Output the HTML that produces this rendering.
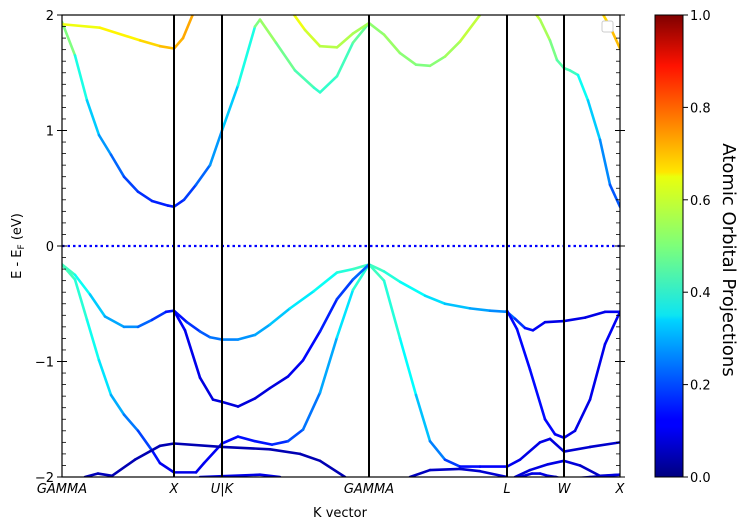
<!DOCTYPE html>
<html><head><meta charset="utf-8"><style>
body{margin:0;background:#fff;}
svg{display:block;font-family:"DejaVu Sans","Liberation Sans",sans-serif;}
</style></head><body>
<svg id="c" width="747" height="529" viewBox="0 0 747 529">
<defs>
<linearGradient id="jet" x1="0" y1="1" x2="0" y2="0">
<stop offset="0" stop-color="#00007f"/><stop offset="0.11" stop-color="#0000ff"/><stop offset="0.125" stop-color="#0000ff"/>
<stop offset="0.34" stop-color="#00d4ff"/><stop offset="0.35" stop-color="#0de5f2"/><stop offset="0.5" stop-color="#7dff7a"/>
<stop offset="0.65" stop-color="#eaff0d"/><stop offset="0.66" stop-color="#ffe600"/><stop offset="0.89" stop-color="#ff1200"/><stop offset="1" stop-color="#7f0000"/>
</linearGradient>
<clipPath id="plotclip"><rect x="62" y="15" width="558" height="462"/></clipPath>
</defs>
<g id="bands" clip-path="url(#plotclip)"></g>
<g id="axes"></g>
</svg>
<script>
// k positions in path units (0..558), energies in eV, projections 0..1
const kTickLabels = ["GAMMA","X","U|K","GAMMA","L","W","X"];
const kTickPos = [0,112,160,307,445,502,558];
const yTicks = [2,1,0,-1,-2];
const cbTicks = [0,0.2,0.4,0.6,0.8,1.0];
const bandK = [
 [0,13,25,37,49,62,76,90,106,112,122,134,148,160,176,193,198,214,233,252,258,275,291,307,322,338,354,368,383,398,418],
 [470,478,488,495,502,508,516,526,538,548,558],
 [0,38,78,98,112,121,133],
 [228,243,258,275,291,307],
 [538,548,558],
 [0,13,28,43,62,76,90,104,112,125,138,148,160,176,193,208,228,252,275,291,307,322,338,363,383,408,428,445,453,463,471,483,502,523,543,558],
 [0,13,25,37,49,62,76,90,98,112,134,142,160,176,193,210,226,241,258,275,291,307,322,338,354,368,383,398,418,445,458,478,488,502,528,558],
 [112,123,138,151,160,176,193,208,226,241,258,275,291,307],
 [445,455,468,483,493,502,513,528,543,558],
 [23,36,50,73,98,112,160,208,238,258,283],
 [138,198,218],
 [348,368,398,418,445],
 [453,468,486,502,518,538,558],
 [458,470,478,486,494,502,528,558]
];
const bandE = [
 [1.94,1.65,1.26,0.96,0.79,0.6,0.47,0.39,0.35,0.34,0.40,0.53,0.7,1.0,1.39,1.9,1.96,1.76,1.52,1.37,1.33,1.47,1.76,1.93,1.83,1.67,1.57,1.56,1.64,1.77,2.0],
 [2.05,1.96,1.78,1.61,1.54,1.52,1.48,1.26,0.92,0.53,0.34],
 [1.92,1.89,1.78,1.73,1.71,1.8,2.05],
 [2.05,1.87,1.73,1.72,1.84,1.93],
 [2.05,1.9,1.71],
 [-0.16,-0.25,-0.42,-0.61,-0.7,-0.7,-0.64,-0.57,-0.56,-0.66,-0.74,-0.79,-0.81,-0.81,-0.77,-0.68,-0.54,-0.39,-0.23,-0.2,-0.16,-0.22,-0.31,-0.43,-0.5,-0.54,-0.56,-0.57,-0.63,-0.71,-0.73,-0.66,-0.65,-0.62,-0.57,-0.57],
 [-0.16,-0.29,-0.64,-0.99,-1.29,-1.46,-1.6,-1.77,-1.88,-1.96,-1.96,-1.88,-1.71,-1.65,-1.69,-1.72,-1.69,-1.59,-1.27,-0.79,-0.38,-0.16,-0.3,-0.8,-1.29,-1.69,-1.85,-1.91,-1.91,-1.91,-1.85,-1.7,-1.67,-1.78,-1.74,-1.7],
 [-0.56,-0.73,-1.14,-1.33,-1.35,-1.39,-1.32,-1.23,-1.13,-0.99,-0.74,-0.46,-0.29,-0.16],
 [-0.56,-0.72,-1.07,-1.5,-1.63,-1.66,-1.6,-1.33,-0.85,-0.57],
 [-2.0,-1.97,-1.99,-1.85,-1.73,-1.71,-1.74,-1.76,-1.8,-1.86,-2.0],
 [-2.0,-1.98,-2.0],
 [-2.0,-1.94,-1.93,-1.95,-2.0],
 [-2.0,-1.94,-1.89,-1.86,-1.9,-1.99,-1.98],
 [-2.0,-1.97,-1.97,-1.99,-2.0,-2.02,-2.0,-1.98]
];
const bandP = [
 [0.55,0.45,0.35,0.3,0.25,0.2,0.18,0.16,0.15,0.15,0.17,0.2,0.25,0.3,0.35,0.45,0.55,0.5,0.47,0.43,0.42,0.43,0.45,0.5,0.53,0.52,0.5,0.5,0.52,0.55,0.58],
 [0.58,0.56,0.52,0.47,0.45,0.45,0.42,0.35,0.3,0.22,0.2],
 [0.6,0.62,0.65,0.68,0.7,0.7,0.72],
 [0.62,0.6,0.56,0.55,0.55,0.53],
 [0.65,0.68,0.7],
 [0.45,0.42,0.35,0.3,0.28,0.25,0.2,0.15,0.13,0.15,0.2,0.23,0.25,0.26,0.28,0.3,0.34,0.37,0.4,0.42,0.45,0.42,0.4,0.36,0.33,0.3,0.27,0.25,0.2,0.15,0.13,0.1,0.1,0.1,0.1,0.12],
 [0.45,0.43,0.4,0.38,0.32,0.27,0.22,0.16,0.12,0.1,0.1,0.11,0.12,0.14,0.14,0.15,0.18,0.22,0.26,0.32,0.38,0.45,0.42,0.4,0.35,0.28,0.22,0.15,0.12,0.12,0.1,0.1,0.1,0.08,0.08,0.07],
 [0.13,0.11,0.1,0.09,0.09,0.09,0.09,0.09,0.1,0.12,0.14,0.17,0.2,0.25],
 [0.13,0.13,0.13,0.14,0.12,0.11,0.1,0.1,0.11,0.12],
 [0.05,0.06,0.05,0.05,0.05,0.05,0.05,0.05,0.05,0.05,0.05],
 [0.1,0.1,0.1],
 [0.05,0.07,0.07,0.08,0.08],
 [0.08,0.09,0.1,0.1,0.08,0.06,0.06],
 [0.08,0.1,0.1,0.09,0.08,0.08,0.09,0.1]
];

const X0=62,W=558,Y0=15,H=462,EMAX=2,EMIN=-2;
const xs=k=>X0+k/558*W;
const ys=e=>Y0+(EMAX-e)/(EMAX-EMIN)*H;
const NS="http://www.w3.org/2000/svg";
function jet(v){
  v=Math.max(0,Math.min(1,v));
  const f=(x)=>Math.max(0,Math.min(1,x));
  const r=f(Math.min(4*v-1.5,-4*v+4.5)),g=f(Math.min(4*v-0.5,-4*v+3.5)),b=f(Math.min(4*v+0.5,-4*v+2.5));
  return `rgb(${Math.round(r*255)},${Math.round(g*255)},${Math.round(b*255)})`;
}
function mk(tag,attrs,parent){const e=document.createElementNS(NS,tag);for(const a in attrs)e.setAttribute(a,attrs[a]);parent.appendChild(e);return e;}
const bands=document.getElementById('bands'),axes=document.getElementById('axes');
const zl=mk('line',{x1:X0,x2:X0+W,y1:ys(0),y2:ys(0),stroke:'#0000ff','stroke-width':2.2,'stroke-dasharray':'2.5,3'},bands);


for(let b=0;b<bandK.length;b++){
  const g=mk('g',{},bands);
  
  
  for(let i=0;i<bandK[b].length-1;i++){
    mk('line',{x1:xs(bandK[b][i]),y1:ys(bandE[b][i]),x2:xs(bandK[b][i+1]),y2:ys(bandE[b][i+1]),stroke:jet((bandP[b][i]+bandP[b][i+1])/2),'stroke-width':2.6,'stroke-linecap':'round'},g);
  }
}
kTickPos.forEach((k,i)=>{
  if(i>0&&i<kTickPos.length-1){
    const l=mk('line',{x1:xs(k),x2:xs(k),y1:Y0,y2:Y0+H,stroke:'#000','stroke-width':2},axes);
    
    
  }
  const t=mk('text',{x:xs(k),y:493,'font-size':13,'font-style':'italic','text-anchor':'middle'},axes);
  t.textContent=kTickLabels[i];
  
  
});
const fr=mk('rect',{x:X0,y:Y0,width:W,height:H,fill:'none',stroke:'#000','stroke-width':1.2},axes);


for(let e=-20;e<=20;e++){
  const y=ys(e/10);
  if(e%10===0){
    mk('line',{x1:X0-5,x2:X0+5,y1:y,y2:y,stroke:'#000','stroke-width':1},axes);
    mk('line',{x1:X0+W-5,x2:X0+W+5,y1:y,y2:y,stroke:'#000','stroke-width':1},axes);
  }else{
    mk('line',{x1:X0,x2:X0+4,y1:y,y2:y,stroke:'#000','stroke-width':0.8},axes);
    mk('line',{x1:X0+W-4,x2:X0+W,y1:y,y2:y,stroke:'#000','stroke-width':0.8},axes);
  }
}
yTicks.forEach(v=>{
  const t=mk('text',{x:54,y:ys(v)+5,'font-size':13,'text-anchor':'end'},axes);
  t.textContent=v<0?'\u2212'+Math.abs(v):String(v);
  
  
});
const cb=mk('rect',{x:655,y:15,width:28,height:462,fill:'url(#jet)',stroke:'#000','stroke-width':1},axes);


cbTicks.forEach(v=>{
  const y=477-v*462;
  mk('line',{x1:683,x2:688,y1:y,y2:y,stroke:'#000','stroke-width':1},axes);
  const t=mk('text',{x:690,y:y+5,'font-size':13},axes);
  t.textContent=v.toFixed(1);
  
  
});
</script>
<svg style="position:absolute;left:0;top:0" width="747" height="529">
<text x="340" y="517" font-size="13" text-anchor="middle" font-family="DejaVu Sans, Liberation Sans, sans-serif">K vector</text>
<text transform="translate(21,246) rotate(-90)" font-size="13" text-anchor="middle" font-family="DejaVu Sans, Liberation Sans, sans-serif">E - E<tspan font-size="9" dy="3">F</tspan><tspan dy="-3"> (eV)</tspan></text>
<text transform="translate(723,260) rotate(90)" font-size="18" text-anchor="middle" font-family="DejaVu Sans, Liberation Sans, sans-serif">Atomic Orbital Projections</text>
<rect x="602" y="21" width="11" height="11" rx="2" fill="#fff" stroke="#ccc"/>
</svg>
</body></html>
